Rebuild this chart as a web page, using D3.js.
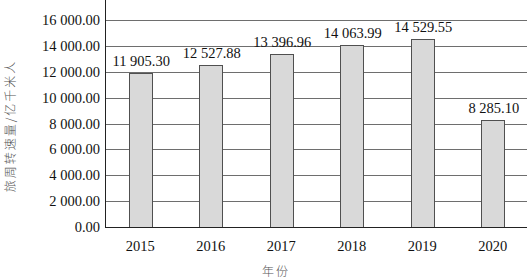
<!DOCTYPE html>
<html>
<head>
<meta charset="utf-8">
<script src="https://cdn.jsdelivr.net/npm/d3@7/dist/d3.min.js"></script>
<style>
  html, body { margin: 0; padding: 0; background: #fff; }
  svg { display: block; }
  .serif { font-family: "Liberation Serif", "Times New Roman", serif; }
  .cjk { font-family: "Noto Sans CJK SC", sans-serif; }
</style>
</head>
<body>
<svg id="chart" width="527" height="279"></svg>
<script>
// data
const years = ['2015', '2016', '2017', '2018', '2019', '2020'];
const turnover = [11905.30, 12527.88, 13396.96, 14063.99, 14529.55, 8285.10];
const yTicks = [0, 2000, 4000, 6000, 8000, 10000, 12000, 14000, 16000];

const W = 527, H = 279;
const margin = { left: 105, right: -1, top: 20, bottom: 52 };

const svg = d3.select('#chart');

// number format with space thousands, like "11 905.30"
const fmt = v => d3.format(',.2f')(v).replace(/,/g, ' ');

const x = d3.scaleBand()
    .domain(years)
    .range([margin.left, W - margin.right])
    .padding(0);

const y = d3.scaleLinear()
    .domain([0, 16000])
    .range([H - margin.bottom, margin.top]);

const barW = x.bandwidth() * 0.32;

// gridlines
svg.append('g')
    .selectAll('line')
    .data(yTicks.filter(d => d > 0))
    .enter()
    .append('line')
    .attr('x1', margin.left)
    .attr('x2', W)
    .attr('y1', d => Math.round(y(d)) + 0.5)
    .attr('y2', d => Math.round(y(d)) + 0.5)
    .attr('stroke', '#6e6e6e')
    .attr('stroke-width', 1);

// y tick labels
svg.append('g')
    .selectAll('text')
    .data(yTicks)
    .enter()
    .append('text')
    .attr('class', 'serif')
    .attr('x', margin.left - 5)
    .attr('y', d => y(d))
    .attr('dy', '0.35em')
    .attr('text-anchor', 'end')
    .attr('font-size', 14.5)
    .attr('fill', '#111')
    .text(fmt);

// bars
svg.append('g')
    .selectAll('rect')
    .data(turnover)
    .enter()
    .append('rect')
    .attr('x', (d, i) => Math.round(x(years[i]) + x.bandwidth() / 2 - barW / 2) + 0.5)
    .attr('y', d => Math.round(y(d)) + 0.5)
    .attr('width', Math.round(barW))
    .attr('height', d => Math.round(y(0)) - Math.round(y(d)))
    .attr('fill', '#d9d9d9')
    .attr('stroke', '#505050')
    .attr('stroke-width', 1);

// value labels
svg.append('g')
    .selectAll('text')
    .data(turnover)
    .enter()
    .append('text')
    .attr('class', 'serif')
    .attr('x', (d, i) => x(years[i]) + x.bandwidth() / 2 + 1)
    .attr('y', d => y(d) - 7)
    .attr('text-anchor', 'middle')
    .attr('font-size', 14.5)
    .attr('fill', '#111')
    .text(fmt);

// axes lines
svg.append('line')
    .attr('x1', margin.left + 0.5).attr('x2', margin.left + 0.5)
    .attr('y1', 0).attr('y2', Math.round(y(0)) + 0.5)
    .attr('stroke', '#222');
svg.append('line')
    .attr('x1', margin.left).attr('x2', W)
    .attr('y1', Math.round(y(0)) + 0.5).attr('y2', Math.round(y(0)) + 0.5)
    .attr('stroke', '#222');

// x tick labels
svg.append('g')
    .selectAll('text')
    .data(years)
    .enter()
    .append('text')
    .attr('class', 'serif')
    .attr('x', d => x(d) + x.bandwidth() / 2)
    .attr('y', y(0) + 24)
    .attr('text-anchor', 'middle')
    .attr('font-size', 14.5)
    .attr('fill', '#111')
    .text(d => d);

// axis titles
svg.append('text')
    .attr('class', 'cjk')
    .attr('x', 276)
    .attr('y', 276)
    .attr('text-anchor', 'middle')
    .attr('font-size', 12)
    .attr('letter-spacing', 2)
    .attr('font-weight', 300)
    .attr('fill', '#555')
    .text('年份');

svg.append('text')
    .attr('class', 'cjk')
    .attr('transform', 'translate(15,126) rotate(-90)')
    .attr('text-anchor', 'middle')
    .attr('font-size', 12)
    .attr('letter-spacing', 2)
    .attr('font-weight', 300)
    .attr('fill', '#555')
    .text('旅周转速量/亿千米人');
</script>
</body>
</html>
